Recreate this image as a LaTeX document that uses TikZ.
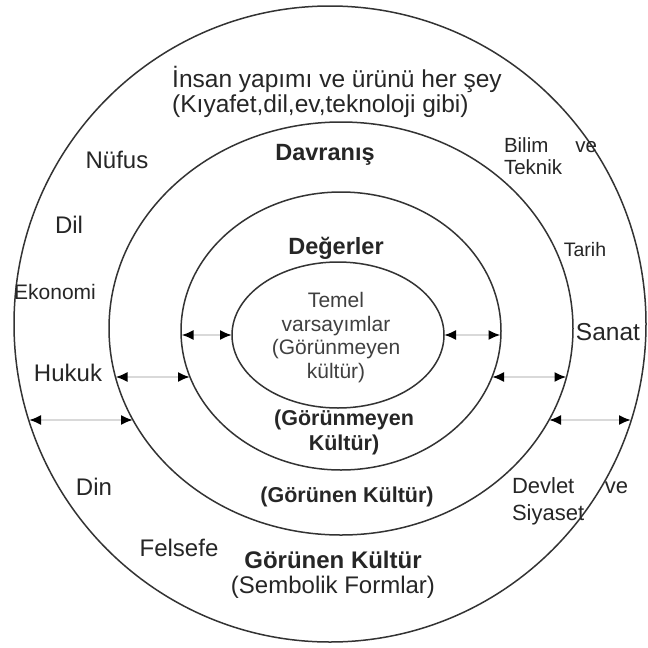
\documentclass[tikz,border=0pt]{standalone}
\usepackage{fontspec}
\setmainfont{Liberation Sans}
\usetikzlibrary{arrows.meta,shapes.geometric}

\begin{document}
\begin{tikzpicture}[x=1pt,y=-1pt,
  ring/.style={draw=black!80, line width=1.5pt, ellipse, inner sep=0pt, outer sep=0pt},
  lbl/.style={inner sep=0pt, text=black!85, align=center, font=\fontsize{24}{25}\selectfont},
  small/.style={lbl, font=\fontsize{20.5}{22}\selectfont},
  boldlbl/.style={lbl, font=\bfseries\fontsize{23.5}{25}\selectfont},
  link/.style={draw=black!15, line width=2pt,
    {Latex[length=12pt,width=10pt,color=black]}-{Latex[length=12pt,width=10pt,color=black]}}
]
\useasboundingbox (0,0) rectangle (648,648);
\fill[white] (0,0) rectangle (648,648);

% the four nested layers
\node[ring, minimum width=632pt, minimum height=636pt] (outer) at (330,324) {};
\node[ring, minimum width=464pt, minimum height=413pt] (behaviour) at (341,328.5) {};
\node[ring, minimum width=320pt, minimum height=278pt] (values) at (341,331) {};
\node[ring, minimum width=212pt, minimum height=146pt] (core) at (338,335) {};

% arrow end points on the layer borders
\coordinate (v1) at (181.5,335); \coordinate (c1) at (232,335);
\coordinate (c2) at (444,335);   \coordinate (v2) at (500.5,335);
\coordinate (b3) at (115.5,377); \coordinate (v3) at (190,377);
\coordinate (v4) at (492,377);   \coordinate (b4) at (566.5,377);
\coordinate (o5) at (29,420);    \coordinate (b5) at (133,420);
\coordinate (b6) at (549,420);   \coordinate (o6) at (631,420);

\draw[link] (v1) -- (c1);
\draw[link] (c2) -- (v2);
\draw[link] (b3) -- (v3);
\draw[link] (v4) -- (b4);
\draw[link] (o5) -- (b5);
\draw[link] (b6) -- (o6);

% outer layer labels
\node[lbl, font=\fontsize{24.5}{25}\selectfont, anchor=base west] (insan) at (172,87) {İnsan yapımı ve ürünü her şey};
\node[lbl, font=\fontsize{24.5}{25}\selectfont, anchor=base west] (kiyafet) at (172,112) {(Kıyafet,dil,ev,teknoloji gibi)};
\node[lbl] (nufus) at (117,160) {Nüfus};
\node[small, text width=93pt, align=left] (bilim) at (550.5,156) {Bilim\hfill ve\\Teknik};
\node[lbl] (dil) at (69,225) {Dil};
\node[small, font=\fontsize{19.5}{22}\selectfont] (tarih) at (585,250) {Tarih};
\node[small, font=\fontsize{21}{22}\selectfont] (ekonomi) at (55,292) {Ekonomi};
\node[lbl, font=\fontsize{24.5}{26}\selectfont] (sanat) at (608,332) {Sanat};
\node[lbl] (hukuk) at (68,373) {Hukuk};
\node[lbl] (din) at (94,487) {Din};
\node[small, font=\fontsize{22}{27}\selectfont, text width=116pt, align=left] (devlet) at (570,501) {Devlet\hfill ve\\Siyaset};
\node[lbl] (felsefe) at (179,548) {Felsefe};
\node[lbl, font=\fontsize{24}{25}\selectfont] (sembolik) at (333,574.5) {\textbf{Görünen Kültür}\\(Sembolik Formlar)};

% inner layer labels
\node[boldlbl] (davranis) at (325,155) {Davranış};
\node[boldlbl] (degerler) at (336,248) {Değerler};
\node[lbl, text=black!75, font=\fontsize{21}{23.7}\selectfont] (temel) at (336,337.5) {Temel\\varsayımlar\\(Görünmeyen\\kültür)};
\node[boldlbl, font=\bfseries\fontsize{21.5}{25}\selectfont] (gorunmeyen) at (344,432.5) {(Görünmeyen\\Kültür)};
\node[boldlbl, font=\bfseries\fontsize{21.5}{25}\selectfont] (gorunen) at (347,497) {(Görünen Kültür)};
\end{tikzpicture}
\end{document}
